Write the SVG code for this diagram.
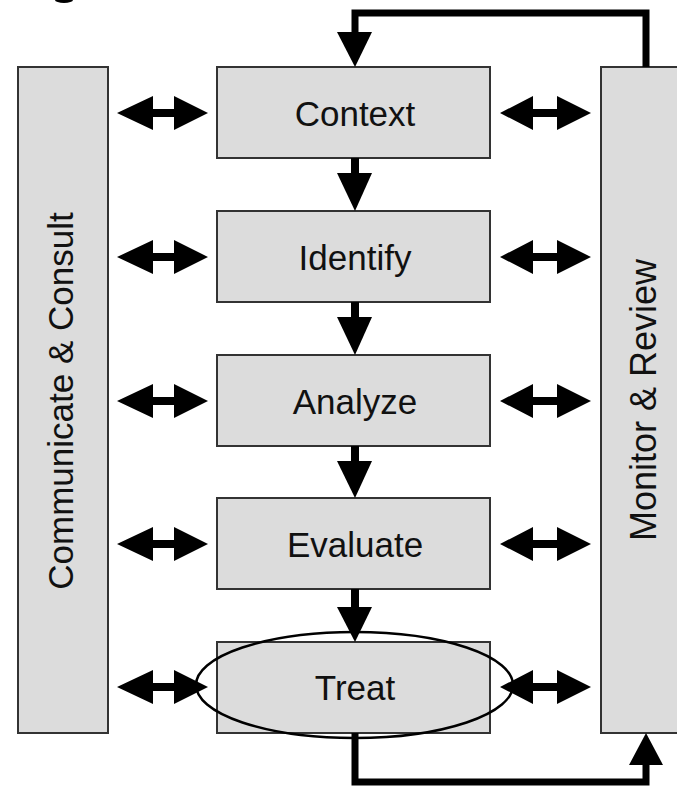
<svg xmlns="http://www.w3.org/2000/svg" width="677" height="787" viewBox="0 0 677 787">
  <style>
    .box { fill: #dcdcdc; stroke: #333333; stroke-width: 2; }
    .lbl { font-family: "Liberation Sans", Arial, sans-serif; font-size: 35px; fill: #111111; text-anchor: middle; }
    .line { fill: none; stroke: #000000; stroke-width: 7; stroke-linejoin: miter; }
    .head { fill: #000000; }
  </style>
  <defs>
    <path id="dblL" d="M0,0 L36,-17 L36,-4 L57,-4 L57,-17 L91,0 L57,17 L57,4 L36,4 L36,17 Z" fill="#000"/>
    <path id="dblR" d="M0,0 L33,-17 L33,-4 L57,-4 L57,-17 L91,0 L57,17 L57,4 L33,4 L33,17 Z" fill="#000"/>
    <path id="down" d="M-4,0 L4,0 L4,-1 L4,0 Z" fill="#000"/>
  </defs>

  <ellipse cx="64" cy="0" rx="9" ry="3" fill="#000"/>

  <g id="communicate-consult">
    <rect class="box" x="18" y="67" width="90" height="666"/>
    <text class="lbl" transform="translate(73,401) rotate(-90)" x="0" y="0">Communicate &amp; Consult</text>
  </g>

  <g id="monitor-review">
    <rect class="box" x="601" y="67" width="90" height="666"/>
    <text class="lbl" transform="translate(656,400) rotate(-90)" x="0" y="0" style="font-size:36px">Monitor &amp; Review</text>
  </g>

  <g id="context">
    <rect class="box" x="217" y="67" width="273" height="91"/>
    <text class="lbl" x="355" y="126">Context</text>
  </g>
  <g id="identify">
    <rect class="box" x="217" y="211" width="273" height="91"/>
    <text class="lbl" x="355" y="270">Identify</text>
  </g>
  <g id="analyze">
    <rect class="box" x="217" y="355" width="273" height="91"/>
    <text class="lbl" x="355" y="414">Analyze</text>
  </g>
  <g id="evaluate">
    <rect class="box" x="217" y="498" width="273" height="91"/>
    <text class="lbl" x="355" y="557">Evaluate</text>
  </g>
  <g id="treat">
    <rect class="box" x="217" y="642" width="273" height="91"/>
    <text class="lbl" x="355" y="700">Treat</text>
  </g>

  <g id="connectors">
    <!-- feedback loop -->
    <polyline class="line" points="355,733 355,782 646,782 646,765"/>
    <polygon class="head" points="629,765 663,765 646,733"/>
    <polyline class="line" points="646,67 646,13 355,13 355,33"/>
    <polygon class="head" points="337,32 372,32 355,67"/>

    <!-- down arrows -->
    <rect x="351" y="158" width="8" height="16" fill="#000"/>
    <polygon class="head" points="337,173 372,173 355,211"/>
    <rect x="351" y="302" width="8" height="16" fill="#000"/>
    <polygon class="head" points="337,317 372,317 355,355"/>
    <rect x="351" y="446" width="8" height="16" fill="#000"/>
    <polygon class="head" points="337,461 372,461 355,498"/>
    <rect x="351" y="589" width="8" height="20" fill="#000"/>
    <polygon class="head" points="337,607 372,607 355,642"/>

    <!-- left double arrows -->
    <use href="#dblL" x="117" y="113"/>
    <use href="#dblL" x="117" y="257"/>
    <use href="#dblL" x="117" y="401"/>
    <use href="#dblL" x="117" y="544"/>
    <use href="#dblL" x="117" y="687"/>
    <!-- right double arrows -->
    <use href="#dblR" x="500" y="113"/>
    <use href="#dblR" x="500" y="257"/>
    <use href="#dblR" x="500" y="401"/>
    <use href="#dblR" x="500" y="544"/>
    <use href="#dblR" x="500" y="687"/>
  </g>

  <ellipse id="treat-highlight" cx="354.5" cy="685" rx="158.5" ry="53" fill="none" stroke="#000" stroke-width="2.5"/>
</svg>
